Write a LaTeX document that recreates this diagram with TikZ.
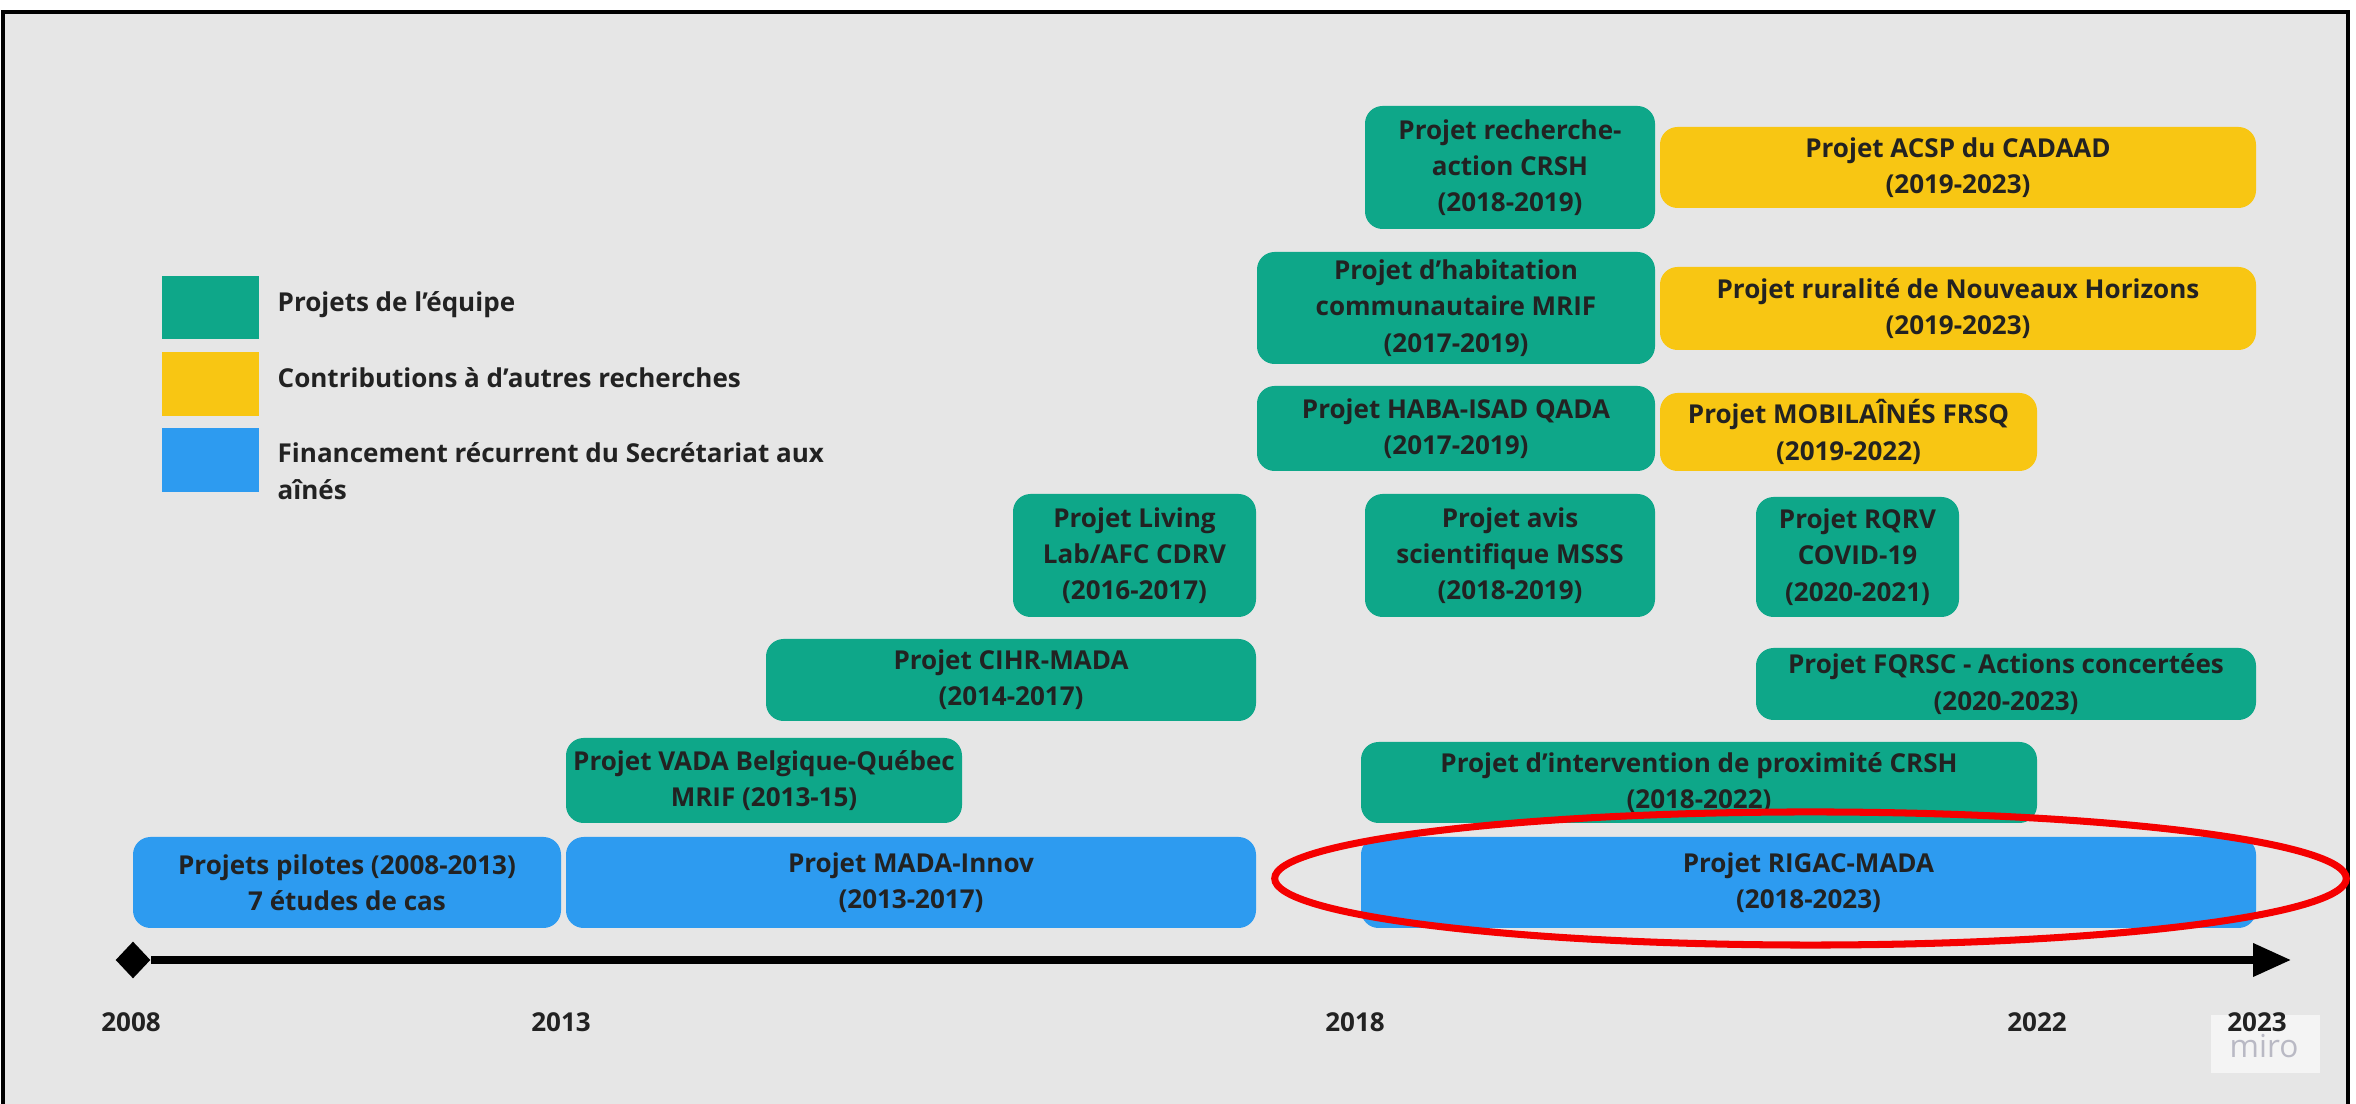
\documentclass[tikz,border=0pt]{standalone}
\usepackage{fontspec}
\setmainfont{Open Sans}
\usetikzlibrary{shapes.geometric,arrows.meta}

\definecolor{fond}{RGB}{230,230,230}
\definecolor{equipe}{RGB}{14,167,137}
\definecolor{contrib}{RGB}{248,198,19}
\definecolor{secretariat}{RGB}{45,155,240}
\definecolor{texte}{RGB}{34,34,34}
\definecolor{cercle}{RGB}{245,0,0}
\definecolor{marque}{RGB}{185,185,196}

\tikzset{
  boite/.style={rounded corners=5pt},
  etiquette/.style={align=center,inner sep=0pt,text=texte,font=\fontsize{7.4}{10.3}\selectfont\bfseries},
  legende/.style={anchor=west,align=left,inner sep=0pt,text=texte,font=\fontsize{7.4}{10.6}\selectfont\bfseries},
  annee/.style={inner sep=0pt,text=texte,font=\fontsize{7.4}{9}\selectfont\bfseries},
  losange/.style={diamond,fill=black,inner sep=0pt,minimum width=10pt,minimum height=10.6pt},
  axe/.style={line width=2pt,-{Triangle[length=10.8pt,width=9.1pt]}},
}

\begin{document}
\begin{tikzpicture}[x=0.01cm,y=-0.01cm]

\useasboundingbox (0,0) rectangle (2356,1104);
\path[fill=white] (0,0) rectangle (2356,1104);
\path[fill=fond] (3,12) rectangle (2348,1104);
\draw[line width=1pt] (3,1104) -- (3,12) -- (2348,12) -- (2348,1104);

%legende
\path[fill=equipe] (162,276) rectangle (259,339);
\node[legende] (leq) at (277,305) {Projets de l’équipe};
\path[fill=contrib] (162,352) rectangle (259,416);
\node[legende] (lco) at (277,378) {Contributions à d’autres recherches};
\path[fill=secretariat] (162,428) rectangle (259,492);
\node[legende] (lse) at (277,471) {Financement récurrent du Secrétariat aux\\aînés};

%financement
\path[boite,fill=secretariat] (133,837) rectangle (561,928);
\node[etiquette] (pilotes) at (347,882.5) {Projets pilotes (2008-2013)\\7 études de cas};
\path[boite,fill=secretariat] (566,837) rectangle (1256,928);
\node[etiquette] (innov) at (911,882.5) {Projet MADA-Innov\\(2013-2017)};
\path[boite,fill=secretariat] (1361,837) rectangle (2256,928);
\node[etiquette] (rigac) at (1808.5,882.5) {Projet RIGAC-MADA\\(2018-2023)};

%equipe
\path[boite,fill=equipe] (566,738) rectangle (962,823);
\node[etiquette] (vada) at (764,780.5) {Projet VADA Belgique-Québec\\MRIF (2013-15)};
\path[boite,fill=equipe] (1361,742) rectangle (2037,823);
\node[etiquette] (proxi) at (1699,782.5) {Projet d’intervention de proximité CRSH\\(2018-2022)};
\path[boite,fill=equipe] (766,639) rectangle (1256,721);
\node[etiquette] (cihr) at (1011,680) {Projet CIHR-MADA\\(2014-2017)};
\path[boite,fill=equipe] (1756,648) rectangle (2256,720);
\node[etiquette] (fqrsc) at (2006,684) {Projet FQRSC - Actions concertées\\(2020-2023)};
\path[boite,fill=equipe] (1013,494) rectangle (1256,617);
\node[etiquette] (living) at (1134.5,555.5) {Projet Living\\Lab/AFC CDRV\\(2016-2017)};
\path[boite,fill=equipe] (1365,494) rectangle (1655,617);
\node[etiquette] (avis) at (1510,555.5) {Projet avis\\scientifique MSSS\\(2018-2019)};
\path[boite,fill=equipe] (1756,497) rectangle (1959,617);
\node[etiquette] (rqrv) at (1857.5,557) {Projet RQRV\\COVID-19\\(2020-2021)};
\path[boite,fill=equipe] (1257,386) rectangle (1655,471);
\node[etiquette] (haba) at (1456,428.5) {Projet HABA-ISAD QADA\\(2017-2019)};
\path[boite,fill=equipe] (1257,252) rectangle (1655,364);
\node[etiquette] (habit) at (1456,308) {Projet d’habitation\\communautaire MRIF\\(2017-2019)};
\path[boite,fill=equipe] (1365,106) rectangle (1655,229);
\node[etiquette] (recher) at (1510,167.5) {Projet recherche-\\action CRSH\\(2018-2019)};

%contributions
\path[boite,fill=contrib] (1660,393) rectangle (2037,471);
\node[etiquette] (mobil) at (1848.5,432) {Projet MOBILAÎNÉS FRSQ\\(2019-2022)};
\path[boite,fill=contrib] (1660,267) rectangle (2256,350);
\node[etiquette] (rural) at (1958,308.5) {Projet ruralité de Nouveaux Horizons\\(2019-2023)};
\path[boite,fill=contrib] (1660,127) rectangle (2256,208);
\node[etiquette] (acsp) at (1958,167.5) {Projet ACSP du CADAAD\\(2019-2023)};

%axe
\node[losange] (debut) at (133,960) {};
\coordinate (fin) at (2291,960);
\draw[axe] (debut) -- (fin);

%miro
\path[fill=white!55!fond] (2211,1015) rectangle (2320,1073);
\node[text=marque,inner sep=0pt,font=\fontsize{9}{9}\selectfont] (miro) at (2264,1046) {miro};

\node[annee] (a2008) at (131,1022) {2008};
\node[annee] (a2013) at (561,1022) {2013};
\node[annee] (a2018) at (1355,1022) {2018};
\node[annee] (a2022) at (2037,1022) {2022};
\node[annee] (a2023) at (2257,1022) {2023};

%cercle
\draw[cercle,line width=2pt] (1810.5,878.5) ellipse [x radius=5.355cm,y radius=0.665cm];

\end{tikzpicture}
\end{document}
